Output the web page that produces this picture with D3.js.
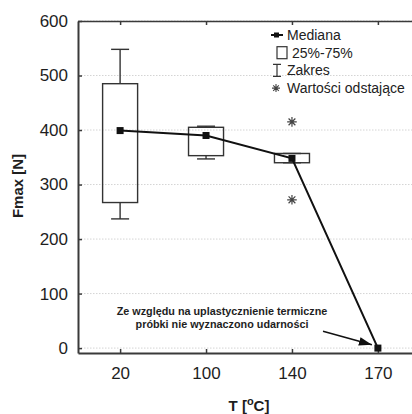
<!DOCTYPE html>
<html>
<head>
<meta charset="utf-8">
<script src="https://cdn.jsdelivr.net/npm/d3@7"></script>
<style>
  body { margin: 0; background: #fff; }
  svg { display: block; font-family: "Liberation Sans", Arial, sans-serif; }
</style>
</head>
<body>
<script>
// DATA
var categories = ["20", "100", "140", "170"];
var medians = [399, 390, 348, 0];
var q1 = [267, 353, 340, 0];
var q3 = [485, 405, 357, 0];
var mins = [237, 347, 340, 0];
var maxs = [548, 407, 357, 0];
var outlierCats = ["140", "140"];
var outlierValues = [415, 272];
var yTicks = [0, 100, 200, 300, 400, 500, 600];
var legendLabels = ["Mediana", "25%-75%", "Zakres", "Warto\u015bci odstaj\u0105ce"];
var noteLines = ["Ze wzgl\u0119du na uplastycznienie termiczne", "pr\u00f3bki nie wyznaczono udarno\u015bci"];

var width = 412, height = 414;
var margin = {left: 78, top: 21, right: -8, bottom: 61};
var w = width - margin.left - margin.right;
var h = height - margin.top - margin.bottom;

var svg = d3.select("body").append("svg")
    .attr("width", width)
    .attr("height", height);

var g = svg.append("g").attr("transform", "translate(" + margin.left + "," + margin.top + ")");

//SCALES
var xScale = d3.scalePoint().domain(categories).range([0, w]).padding(0.49);
var yScale = d3.scaleLinear().domain([-9, 600]).range([h, 0]);

// 8-armed star like the original outlier marker
function starPath(r) {
    var p = d3.path(), k = r * Math.SQRT1_2;
    p.moveTo(-r, 0); p.lineTo(r, 0);
    p.moveTo(0, -r); p.lineTo(0, r);
    p.moveTo(-k, -k); p.lineTo(k, k);
    p.moveTo(-k, k); p.lineTo(k, -k);
    return p.toString();
}

// gridlines
g.selectAll("line.grid")
    .data(yTicks)
    .enter().append("line")
    .attr("class", "grid")
    .attr("x1", 0).attr("x2", w)
    .attr("y1", function(d){ return yScale(d); })
    .attr("y2", function(d){ return yScale(d); })
    .attr("stroke", "#d4d4d4")
    .attr("stroke-width", 1)
    .attr("stroke-dasharray", "1.5,1.5");

// axes
var yAxis = g.append("g")
    .call(d3.axisLeft(yScale).tickValues(yTicks).tickSizeInner(-4).tickSizeOuter(0).tickPadding(10));
var xAxis = g.append("g")
    .attr("transform", "translate(0," + h + ")")
    .call(d3.axisBottom(xScale).tickSizeInner(-4).tickSizeOuter(0).tickPadding(14));
var topAxis = g.append("g")
    .call(d3.axisTop(xScale).tickSizeInner(-4).tickSizeOuter(0).tickFormat(""));

[yAxis, xAxis, topAxis].forEach(function(a){
    a.select(".domain").attr("stroke", "#3a3a3a").attr("stroke-width", 2);
    a.selectAll(".tick line").attr("stroke", "#3a3a3a").attr("stroke-width", 1.5);
    a.selectAll(".tick text").attr("fill", "#1e1e1e").attr("font-size", "17px")
        .attr("font-family", "Liberation Sans, Arial, sans-serif");
});
topAxis.select(".domain").attr("stroke-width", 1.5);

// axis titles
svg.append("text")
    .attr("transform", "translate(23,186) rotate(-90)")
    .attr("text-anchor", "middle")
    .attr("font-size", "15px").attr("font-weight", "bold").attr("fill", "#1e1e1e")
    .text("Fmax [N]");

var xt = svg.append("text")
    .attr("x", margin.left + (xScale("20") + xScale("170")) / 2)
    .attr("y", 411)
    .attr("text-anchor", "middle")
    .attr("font-size", "15px").attr("font-weight", "bold").attr("fill", "#1e1e1e");
xt.append("tspan").text("T [");
xt.append("tspan").attr("dy", -6).attr("font-size", "11px").text("o");
xt.append("tspan").attr("dy", 6).text("C]");

// boxes
var boxW = 35, capW = 18;
var idx = d3.range(categories.length).filter(function(i){ return maxs[i] > mins[i]; });

var boxes = g.selectAll("g.box")
    .data(idx)
    .enter().append("g")
    .attr("class", "box")
    .attr("stroke", "#333").attr("stroke-width", 1.4).attr("fill", "none");

boxes.append("line")
    .attr("x1", function(i){ return xScale(categories[i]); })
    .attr("x2", function(i){ return xScale(categories[i]); })
    .attr("y1", function(i){ return yScale(maxs[i]); })
    .attr("y2", function(i){ return yScale(q3[i]); });
boxes.append("line")
    .attr("x1", function(i){ return xScale(categories[i]); })
    .attr("x2", function(i){ return xScale(categories[i]); })
    .attr("y1", function(i){ return yScale(mins[i]); })
    .attr("y2", function(i){ return yScale(q1[i]); });
boxes.append("line")
    .attr("x1", function(i){ return xScale(categories[i]) - capW / 2; })
    .attr("x2", function(i){ return xScale(categories[i]) + capW / 2; })
    .attr("y1", function(i){ return yScale(maxs[i]); })
    .attr("y2", function(i){ return yScale(maxs[i]); });
boxes.append("line")
    .attr("x1", function(i){ return xScale(categories[i]) - capW / 2; })
    .attr("x2", function(i){ return xScale(categories[i]) + capW / 2; })
    .attr("y1", function(i){ return yScale(mins[i]); })
    .attr("y2", function(i){ return yScale(mins[i]); });
boxes.append("rect")
    .attr("x", function(i){ return xScale(categories[i]) - boxW / 2; })
    .attr("width", boxW)
    .attr("y", function(i){ return yScale(q3[i]); })
    .attr("height", function(i){ return yScale(q1[i]) - yScale(q3[i]); });

// outliers
g.selectAll("path.outlier")
    .data(outlierValues)
    .enter().append("path")
    .attr("class", "outlier")
    .attr("transform", function(d, i){ return "translate(" + xScale(outlierCats[i]) + "," + yScale(d) + ")"; })
    .attr("d", starPath(4.8))
    .attr("fill", "none").attr("stroke", "#444").attr("stroke-width", 1.2);

// median line
var line = d3.line()
    .x(function(d, i){ return xScale(categories[i]); })
    .y(function(d){ return yScale(d); });
g.append("path")
    .datum(medians)
    .attr("d", line)
    .attr("fill", "none").attr("stroke", "#111").attr("stroke-width", 2);

g.selectAll("rect.median")
    .data(medians)
    .enter().append("rect")
    .attr("class", "median")
    .attr("x", function(d, i){ return xScale(categories[i]) - 3.5; })
    .attr("y", function(d){ return yScale(d) - 3.5; })
    .attr("width", 7).attr("height", 7)
    .attr("fill", "#111");

// annotation
var note = svg.append("text")
    .attr("text-anchor", "middle")
    .attr("font-size", "10.8px").attr("font-weight", "bold").attr("fill", "#1e1e1e");
note.selectAll("tspan")
    .data(noteLines)
    .enter().append("tspan")
    .attr("x", 222)
    .attr("y", function(d, i){ return 315 + i * 13; })
    .text(function(d){ return d; });

svg.append("defs").append("marker")
    .attr("id", "arrow")
    .attr("viewBox", "0 0 12 8")
    .attr("refX", 12).attr("refY", 4)
    .attr("markerWidth", 13).attr("markerHeight", 9)
    .attr("markerUnits", "userSpaceOnUse")
    .attr("orient", "auto")
    .append("path").attr("d", "M0,0L12,4L0,8Z").attr("fill", "#111");

g.append("line")
    .attr("x1", 245).attr("y1", yScale(31))
    .attr("x2", xScale("170") - 6).attr("y2", yScale(6))
    .attr("stroke", "#111").attr("stroke-width", 1.5)
    .attr("marker-end", "url(#arrow)");

// legend
var legend = svg.append("g").attr("transform", "translate(276,35)");
var rowH = 17.7;
var rows = legend.selectAll("g.row")
    .data(legendLabels)
    .enter().append("g")
    .attr("class", "row")
    .attr("transform", function(d, i){ return "translate(0," + i * rowH + ")"; });

rows.append("text")
    .attr("x", function(d, i){ return i === 1 ? 16 : 11; })
    .attr("y", 5)
    .attr("font-size", "14px").attr("fill", "#222")
    .text(function(d){ return d; });

var r0 = rows.filter(function(d, i){ return i === 0; });
r0.append("line").attr("x1", -5).attr("x2", 7).attr("y1", 0).attr("y2", 0)
    .attr("stroke", "#111").attr("stroke-width", 2);
r0.append("rect").attr("x", -2).attr("y", -2.5).attr("width", 5).attr("height", 5).attr("fill", "#111");

rows.filter(function(d, i){ return i === 1; })
    .append("rect").attr("x", 1).attr("y", -6).attr("width", 10).attr("height", 12)
    .attr("fill", "none").attr("stroke", "#333").attr("stroke-width", 1.2);

var r2 = rows.filter(function(d, i){ return i === 2; });
r2.append("path").attr("d", "M-3,-6H5M1,-6V6M-3,6H5")
    .attr("fill", "none").attr("stroke", "#333").attr("stroke-width", 1.2);

rows.filter(function(d, i){ return i === 3; })
    .append("path").attr("d", starPath(4))
    .attr("fill", "none").attr("stroke", "#444").attr("stroke-width", 1.1);
</script>
</body>
</html>
